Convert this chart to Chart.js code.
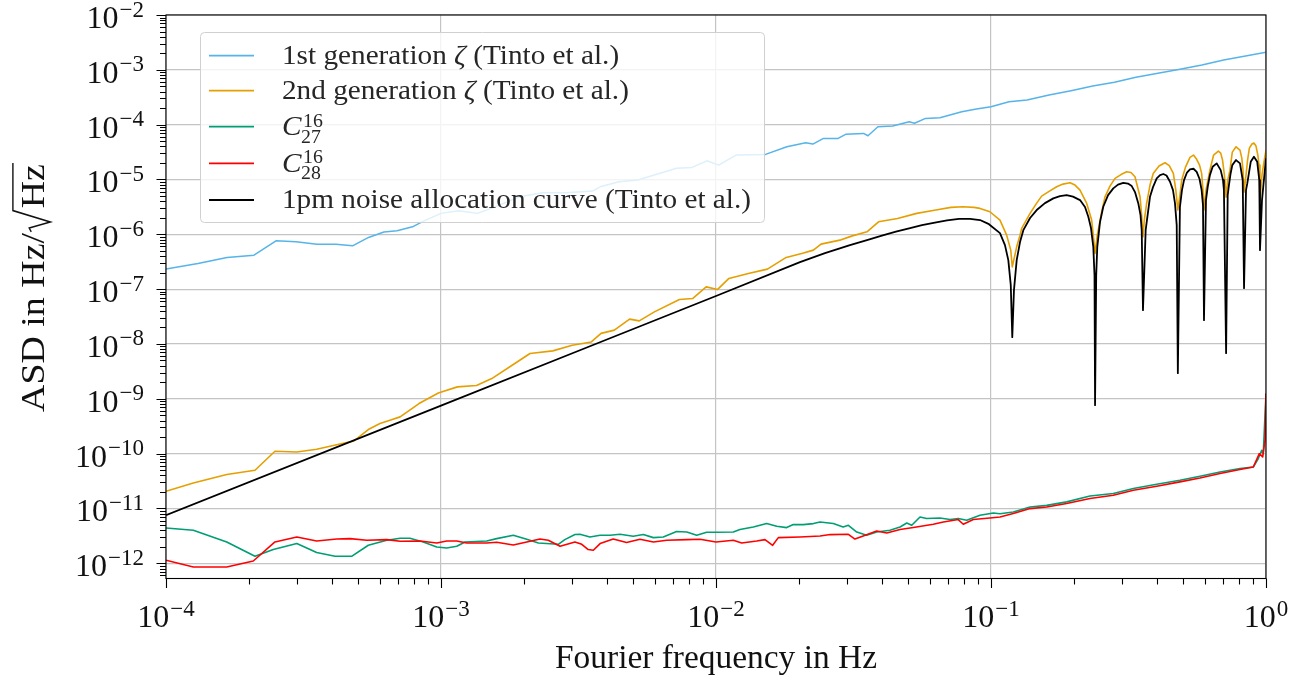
<!DOCTYPE html>
<html>
<head>
<meta charset="utf-8">
<script src="https://cdn.jsdelivr.net/npm/chart.js@4.4.1/dist/chart.umd.min.js"></script>
<style>
html,body{margin:0;padding:0;background:#fff;overflow:hidden;}
canvas{display:block;}
</style>
</head>
<body>
<canvas id="c" width="1304" height="683"></canvas>
<script>
// ---------------- data ----------------
const freqGen1 = [1.0e-4, 1.307e-4, 1.667e-4, 2.089e-4, 2.512e-4, 2.97e-4, 3.54e-4, 4.15e-4, 4.77e-4, 5.45e-4, 6.20e-4, 6.92e-4, 7.88e-4, 8.67e-4, 1.0e-3, 1.158e-3, 1.36e-3, 1.596e-3, 1.93e-3, 2.34e-3, 2.84e-3, 3.56e-3, 3.79e-3, 4.44e-3, 5.20e-3, 6.13e-3, 7.19e-3, 8.18e-3, 9.27e-3, 1.023e-2, 1.182e-2, 1.514e-2, 1.81e-2, 2.12e-2, 2.25e-2, 2.46e-2, 2.78e-2, 2.96e-2, 3.44e-2, 3.57e-2, 3.88e-2, 4.39e-2, 5.04e-2, 5.27e-2, 5.78e-2, 6.52e-2, 7.83e-2, 8.85e-2, 0.1, 0.1163, 0.1352, 0.1626, 0.1954, 0.2344, 0.2812, 0.3365, 0.4046, 0.4864, 0.5848, 0.7015, 0.8424, 1.0];
const asdGen1 = [2.32e-7, 2.94e-7, 3.79e-7, 4.17e-7, 7.60e-7, 7.30e-7, 6.62e-7, 6.62e-7, 6.17e-7, 8.77e-7, 1.10e-6, 1.16e-6, 1.37e-6, 1.76e-6, 2.41e-6, 2.69e-6, 2.41e-6, 3.27e-6, 4.83e-6, 5.71e-6, 5.71e-6, 6.14e-6, 7.36e-6, 9.08e-6, 9.75e-6, 1.26e-5, 1.60e-5, 1.66e-5, 2.19e-5, 1.83e-5, 2.79e-5, 2.87e-5, 3.95e-5, 4.67e-5, 4.43e-5, 5.62e-5, 5.62e-5, 6.65e-5, 6.93e-5, 6.27e-5, 9.16e-5, 9.43e-5, 1.13e-4, 1.06e-4, 1.30e-4, 1.34e-4, 1.72e-4, 1.93e-4, 2.12e-4, 2.62e-4, 2.81e-4, 3.47e-4, 4.16e-4, 5.06e-4, 5.91e-4, 7.30e-4, 8.63e-4, 1.02e-3, 1.22e-3, 1.51e-3, 1.79e-3, 2.09e-3];

const freqGen2 = [1.0e-4, 1.257e-4, 1.663e-4, 2.107e-4, 2.49e-4, 2.99e-4, 3.53e-4, 4.54e-4, 4.80e-4, 5.44e-4, 6.00e-4, 6.52e-4, 7.10e-4, 8.32e-4, 9.78e-4, 1.147e-3, 1.346e-3, 1.53e-3, 1.855e-3, 2.107e-3, 2.55e-3, 3.00e-3, 3.52e-3, 3.82e-3, 4.27e-3, 4.85e-3, 5.26e-3, 5.97e-3, 7.36e-3, 8.24e-3, 9.21e-3, 1.014e-2, 1.114e-2, 1.311e-2, 1.538e-2, 1.80e-2, 2.05e-2, 2.26e-2, 2.41e-2, 2.82e-2, 3.11e-2, 3.54e-2, 3.90e-2, 4.57e-2, 5.37e-2, 6.30e-2, 7.15e-2, 7.89e-2, 8.67e-2, 9.12e-2, 9.91e-2, 0.1078,
  0.114, 0.118, 0.1195, 0.124, 0.1275, 0.1293, 0.1387, 0.1466, 0.1528, 0.1632, 0.1733, 0.1827, 0.1938, 0.2021, 0.2107, 0.2229, 0.2323, 0.2355, 0.239, 0.2435, 0.2525, 0.2597, 0.2708, 0.2825, 0.2970, 0.3115, 0.3228, 0.3339, 0.3483, 0.3530, 0.357, 0.3610, 0.3681, 0.3786, 0.389, 0.4083, 0.4293, 0.4450, 0.4603, 0.4700, 0.478, 0.4864, 0.4938, 0.5096, 0.5291, 0.5450, 0.5597, 0.5733, 0.5834, 0.5900, 0.595, 0.6050, 0.6252, 0.6449, 0.6709, 0.6843, 0.695, 0.7060, 0.716, 0.7256, 0.7396, 0.7541, 0.778, 0.8043, 0.8166, 0.825, 0.832, 0.8459, 0.857, 0.8701, 0.889, 0.9039, 0.9197, 0.9340, 0.9433, 0.951, 0.9671, 0.979, 1.0];
const asdGen2 = [2.06e-11, 2.92e-11, 4.16e-11, 4.98e-11, 1.106e-10, 1.07e-10, 1.20e-10, 1.60e-10, 1.68e-10, 2.75e-10, 3.54e-10, 4.07e-10, 4.68e-10, 8.20e-10, 1.28e-9, 1.65e-9, 1.75e-9, 2.34e-9, 4.41e-9, 6.71e-9, 7.48e-9, 9.51e-9, 1.09e-8, 1.56e-8, 1.79e-8, 2.84e-8, 2.64e-8, 3.85e-8, 6.49e-8, 6.76e-8, 1.10e-7, 9.88e-8, 1.57e-7, 1.93e-7, 2.32e-7, 3.79e-7, 4.48e-7, 5.15e-7, 6.62e-7, 7.83e-7, 9.27e-7, 1.11e-6, 1.69e-6, 1.95e-6, 2.41e-6, 2.77e-6, 3.10e-6, 3.18e-6, 3.10e-6, 2.97e-6, 2.58e-6, 1.82e-6,
  9.66e-7, 5.15e-7, 2.55e-7, 5.92e-7, 9.66e-7, 1.28e-6, 2.41e-6, 3.71e-6, 4.98e-6, 6.14e-6, 7.36e-6, 8.24e-6, 8.71e-6, 7.91e-6, 6.41e-6, 3.66e-6, 1.82e-6, 9.66e-7, 4.48e-7, 9.66e-7, 2.54e-6, 4.83e-6, 7.58e-6, 1.05e-5, 1.23e-5, 1.38e-5, 1.34e-5, 1.12e-5, 4.83e-6, 2.24e-6, 9.0e-7, 1.82e-6, 3.66e-6, 7.91e-6, 1.29e-5, 1.76e-5, 2.02e-5, 1.79e-5, 1.29e-5, 6.41e-6, 2.77e-6, 5.19e-6, 9.75e-6, 1.68e-5, 2.53e-5, 2.79e-5, 2.33e-5, 1.83e-5, 1.29e-5, 6.41e-6, 2.77e-6, 6.41e-6, 1.48e-5, 2.79e-5, 3.30e-5, 3.03e-5, 2.26e-5, 1.20e-5, 4.77e-6, 9.75e-6, 1.48e-5, 3.16e-5, 3.95e-5, 3.44e-5, 2.46e-5, 1.48e-5, 5.89e-6, 1.20e-5, 2.26e-5, 3.74e-5, 4.43e-5, 4.62e-5, 4.07e-5, 2.79e-5, 1.83e-5, 4.21e-6, 1.20e-5, 1.83e-5, 3.44e-5];

const freqC27 = [1.0e-4, 1.257e-4, 1.663e-4, 2.107e-4, 2.455e-4, 2.99e-4, 3.53e-4, 4.12e-4, 4.73e-4, 5.44e-4, 6.35e-4, 7.10e-4, 7.71e-4, 8.62e-4, 9.65e-4, 1.049e-3, 1.141e-3, 1.223e-3, 1.466e-3, 1.594e-3, 1.832e-3, 2.05e-3, 2.26e-3, 2.67e-3, 2.82e-3, 3.07e-3, 3.20e-3, 3.48e-3, 3.79e-3, 4.12e-3, 4.48e-3, 5.00e-3, 5.44e-3, 5.92e-3, 6.43e-3, 7.19e-3, 7.83e-3, 8.51e-3, 9.25e-3, 1.0e-2, 1.156e-2, 1.222e-2, 1.367e-2, 1.528e-2, 1.663e-2, 1.807e-2, 1.91e-2, 2.077e-2, 2.26e-2, 2.39e-2, 2.67e-2, 2.90e-2, 3.03e-2, 3.25e-2, 3.53e-2, 3.84e-2, 4.29e-2, 4.67e-2, 4.94e-2, 5.15e-2, 5.52e-2, 5.83e-2, 6.52e-2, 7.10e-2, 7.60e-2, 8.16e-2, 9.12e-2, 0.102, 0.1078, 0.1205, 0.1387, 0.1594, 0.1884, 0.2291, 0.2784, 0.3293, 0.4005, 0.4864, 0.5754, 0.6804, 0.8043, 0.8991, 0.9377, 0.9647, 0.9773, 1.0];
const asdC27 = [4.41e-12, 4.00e-12, 2.45e-12, 1.34e-12, 1.78e-12, 2.29e-12, 1.57e-12, 1.34e-12, 1.34e-12, 2.13e-12, 2.63e-12, 2.86e-12, 2.86e-12, 2.45e-12, 1.98e-12, 1.90e-12, 2.04e-12, 2.45e-12, 2.55e-12, 2.82e-12, 3.24e-12, 2.74e-12, 2.35e-12, 2.22e-12, 2.70e-12, 3.34e-12, 3.38e-12, 3.02e-12, 3.24e-12, 3.24e-12, 3.38e-12, 3.11e-12, 3.34e-12, 2.94e-12, 3.02e-12, 3.79e-12, 3.72e-12, 3.24e-12, 3.68e-12, 3.68e-12, 3.72e-12, 4.12e-12, 4.59e-12, 5.30e-12, 4.73e-12, 4.48e-12, 5.08e-12, 5.08e-12, 5.30e-12, 5.67e-12, 5.30e-12, 4.59e-12, 4.93e-12, 3.72e-12, 3.24e-12, 3.72e-12, 4.00e-12, 4.59e-12, 5.43e-12, 4.93e-12, 7.00e-12, 6.55e-12, 6.71e-12, 6.27e-12, 6.55e-12, 6.09e-12, 7.51e-12, 8.28e-12, 8.0e-12, 8.63e-12, 1.06e-11, 1.14e-11, 1.32e-11, 1.69e-11, 1.87e-11, 2.31e-11, 2.77e-11, 3.27e-11, 3.87e-11, 4.63e-11, 5.35e-11, 5.71e-11, 8.15e-11, 1.15e-10, 1.00e-10, 1.25e-9];

const freqC28 = [1.0e-4, 1.257e-4, 1.663e-4, 2.077e-4, 2.49e-4, 2.99e-4, 3.53e-4, 4.18e-4, 4.67e-4, 5.37e-4, 6.35e-4, 7.10e-4, 8.39e-4, 9.65e-4, 1.049e-3, 1.141e-3, 1.24e-3, 1.466e-3, 1.594e-3, 1.832e-3, 2.05e-3, 2.29e-3, 2.455e-3, 2.71e-3, 3.07e-3, 3.25e-3, 3.43e-3, 3.58e-3, 3.79e-3, 4.23e-3, 4.73e-3, 5.29e-3, 5.92e-3, 6.62e-3, 7.83e-3, 8.75e-3, 1.0e-2, 1.156e-2, 1.24e-2, 1.406e-2, 1.507e-2, 1.607e-2, 1.685e-2, 2.02e-2, 2.39e-2, 2.60e-2, 3.03e-2, 3.20e-2, 3.43e-2, 3.84e-2, 4.18e-2, 4.67e-2, 5.22e-2, 6.17e-2, 6.71e-2, 7.60e-2, 7.93e-2, 8.62e-2, 9.91e-2, 0.1078, 0.1205, 0.1387, 0.1594, 0.1884, 0.2291, 0.2784, 0.3293, 0.4005, 0.4864, 0.5754, 0.6804, 0.8043, 0.8991, 0.9454, 0.9727, 0.9917, 1.0];
const asdC28 = [1.135e-12, 8.57e-13, 8.57e-13, 1.10e-12, 2.45e-12, 3.02e-12, 2.55e-12, 2.77e-12, 2.82e-12, 2.63e-12, 2.70e-12, 2.52e-12, 2.55e-12, 2.35e-12, 2.55e-12, 2.55e-12, 2.35e-12, 2.35e-12, 2.42e-12, 2.16e-12, 2.45e-12, 2.77e-12, 2.63e-12, 2.04e-12, 2.45e-12, 2.22e-12, 1.78e-12, 1.73e-12, 2.29e-12, 2.77e-12, 2.39e-12, 2.74e-12, 2.45e-12, 2.63e-12, 2.70e-12, 2.74e-12, 2.45e-12, 2.63e-12, 2.35e-12, 2.55e-12, 2.70e-12, 2.13e-12, 2.94e-12, 3.02e-12, 3.15e-12, 3.34e-12, 3.38e-12, 2.77e-12, 3.15e-12, 3.88e-12, 3.57e-12, 4.12e-12, 4.48e-12, 5.15e-12, 5.67e-12, 6.27e-12, 5.15e-12, 6.27e-12, 6.71e-12, 7.0e-12, 8.07e-12, 9.95e-12, 1.06e-11, 1.23e-11, 1.52e-11, 1.74e-11, 2.15e-11, 2.54e-11, 3.05e-11, 3.60e-11, 4.34e-11, 5.13e-11, 5.71e-11, 1.00e-10, 8.71e-11, 1.76e-10, 1.25e-9];

const freqNoise = [1.0e-4, 1.0e-3, 3.20e-3, 1.0e-2, 2.02e-2, 2.49e-2, 3.07e-2, 3.54e-2, 4.01e-2, 4.51e-2, 5.08e-2, 5.61e-2, 6.25e-2, 6.92e-2, 7.65e-2, 8.39e-2, 9.12e-2, 9.83e-2, 0.1078, 0.1124, 0.1156, 0.118, 0.1195, 0.1212, 0.124, 0.1275, 0.1311, 0.1387, 0.1466, 0.1571, 0.1685, 0.1782, 0.1884, 0.1987, 0.2107, 0.2197, 0.2259, 0.2310, 0.2355, 0.2379, 0.239, 0.2413, 0.2435, 0.2491, 0.256, 0.2665, 0.2784, 0.2896, 0.3027, 0.3148, 0.3249, 0.3339, 0.3433, 0.3497, 0.3532, 0.357, 0.3651, 0.3786, 0.3882, 0.4005, 0.4118, 0.4233, 0.4347, 0.4477, 0.4590, 0.4667, 0.4735, 0.478, 0.4864, 0.4948, 0.5034, 0.5160, 0.5291, 0.5450, 0.5597, 0.5733, 0.5834, 0.5900, 0.595, 0.6050, 0.6138, 0.6252, 0.6397, 0.6618, 0.6843, 0.6977, 0.7031, 0.716, 0.7256, 0.7318, 0.743, 0.7541, 0.778, 0.8043, 0.8228, 0.832, 0.8459, 0.855, 0.88, 0.9039, 0.9291, 0.9454, 0.951, 0.9671, 0.9773, 1.0];
const asdNoise = [7.51e-12, 7.51e-10, 7.69e-9, 7.51e-8, 3.11e-7, 4.54e-7, 6.35e-7, 7.83e-7, 9.46e-7, 1.12e-6, 1.30e-6, 1.47e-6, 1.64e-6, 1.79e-6, 1.91e-6, 1.92e-6, 1.82e-6, 1.53e-6, 1.05e-6, 6.35e-7, 3.38e-7, 1.18e-7, 1.33e-8, 9.6e-8, 3.38e-7, 7.21e-7, 1.19e-6, 1.98e-6, 2.77e-6, 3.71e-6, 4.52e-6, 4.98e-6, 5.19e-6, 4.88e-6, 4.21e-6, 3.14e-6, 2.09e-6, 1.30e-6, 5.92e-7, 1.80e-7, 7.64e-10, 1.80e-7, 5.92e-7, 1.67e-6, 3.18e-6, 5.19e-6, 6.89e-6, 8.07e-6, 8.71e-6, 8.41e-6, 7.58e-6, 5.89e-6, 3.66e-6, 2.24e-6, 1.19e-6, 4.14e-8, 1.19e-6, 4.83e-6, 7.26e-6, 1.05e-5, 1.20e-5, 1.26e-5, 1.18e-5, 9.08e-6, 6.41e-6, 3.66e-6, 1.47e-6, 2.93e-9, 3.18e-6, 6.41e-6, 9.75e-6, 1.34e-5, 1.53e-5, 1.57e-5, 1.38e-5, 1.02e-5, 6.41e-6, 3.41e-6, 2.72e-8, 4.21e-6, 7.36e-6, 1.20e-5, 1.71e-5, 1.97e-5, 1.48e-5, 9.75e-6, 6.41e-6, 6.79e-9, 5.19e-6, 7.36e-6, 1.26e-5, 1.83e-5, 2.26e-5, 1.97e-5, 9.75e-6, 1.04e-7, 6.41e-6, 8.49e-6, 2.10e-5, 2.60e-5, 2.10e-5, 9.75e-6, 5.15e-7, 4.21e-6, 7.36e-6, 2.43e-5];

const seriesLabels = ['1st generation ζ (Tinto et al.)', '2nd generation ζ (Tinto et al.)', 'C_27^16', 'C_28^16', '1pm noise allocation curve (Tinto et al.)'];
const seriesColors = ['#56B4E9', '#E69F00', '#009E73', '#FF0000', '#000000'];

const xTickValues = [1e-4, 1e-3, 1e-2, 1e-1, 1];
const xTickExponents = ['\u22124', '\u22123', '\u22122', '\u22121', '0'];
const yTickValues = [1e-12, 1e-11, 1e-10, 1e-9, 1e-8, 1e-7, 1e-6, 1e-5, 1e-4, 1e-3, 1e-2];
const yTickExponents = ['\u221212', '\u221211', '\u221210', '\u22129', '\u22128', '\u22127', '\u22126', '\u22125', '\u22124', '\u22123', '\u22122'];

const xTitle = 'Fourier frequency in Hz';
const yTitleParts = ['ASD in Hz/', 'Hz'];   // second part sits under a square root

// ---------------- helpers ----------------
const SERIF = '"Liberation Serif","DejaVu Serif",serif';
function pairs(fs, vs) {
  const n = Math.min(fs.length, vs.length);
  const out = [];
  for (let i = 0; i < n; i++) out.push({x: fs[i], y: vs[i]});
  return out;
}

function drawPow(ctx, exp, x, baseY, align) {
  ctx.font = '32px ' + SERIF;
  const wb = ctx.measureText('10').width;
  ctx.font = '23px ' + SERIF;
  const we = ctx.measureText(exp).width;
  const w = wb + 1 + we;
  const x0 = align === 'right' ? x - w : x - w / 2;
  ctx.textAlign = 'left';
  ctx.textBaseline = 'alphabetic';
  ctx.font = '32px ' + SERIF;
  ctx.fillText('10', x0, baseY);
  ctx.font = '23px ' + SERIF;
  ctx.fillText(exp, x0 + wb + 1, baseY - 11.5);
}

function drawLegend(chart) {
  const ctx = chart.ctx;
  ctx.save();
  const bx = 200.5, by = 32.5, bw = 564, bh = 190, r = 4;
  ctx.beginPath();
  ctx.moveTo(bx + r, by);
  ctx.lineTo(bx + bw - r, by); ctx.quadraticCurveTo(bx + bw, by, bx + bw, by + r);
  ctx.lineTo(bx + bw, by + bh - r); ctx.quadraticCurveTo(bx + bw, by + bh, bx + bw - r, by + bh);
  ctx.lineTo(bx + r, by + bh); ctx.quadraticCurveTo(bx, by + bh, bx, by + bh - r);
  ctx.lineTo(bx, by + r); ctx.quadraticCurveTo(bx, by, bx + r, by);
  ctx.closePath();
  ctx.fillStyle = 'rgba(255,255,255,0.8)';
  ctx.fill();
  ctx.strokeStyle = '#d0d0d0';
  ctx.lineWidth = 1;
  ctx.stroke();

  const rows = [55.7, 90.7, 126.7, 163.3, 200];
  ctx.font = '28px ' + SERIF;
  const sx = 469 / ctx.measureText(seriesLabels[4]).width;
  seriesLabels.forEach((lab, i) => {
    const yy = rows[i];
    ctx.strokeStyle = seriesColors[i];
    ctx.lineWidth = 1.8;
    ctx.beginPath(); ctx.moveTo(209, yy); ctx.lineTo(254, yy); ctx.stroke();
    ctx.fillStyle = '#262626';
    ctx.textBaseline = 'alphabetic';
    ctx.textAlign = 'left';
    const base = yy + 8.3;
    const m = lab.match(/^([A-Z])_(\d+)\^(\d+)$/);
    ctx.save();
    ctx.translate(282, 0);
    ctx.scale(sx, 1);
    if (m) {
      ctx.font = 'italic 28px ' + SERIF;
      ctx.fillText(m[1], 0, base);
      const wc = ctx.measureText(m[1]).width;
      ctx.font = '19px ' + SERIF;
      ctx.fillText(m[3], wc + 1.5, base - 8.3);
      ctx.fillText(m[2], wc - 0.5, base + 7.7);
    } else {
      const parts = lab.split('ζ');
      let cx = 0;
      parts.forEach((p, k) => {
        ctx.font = '28px ' + SERIF;
        ctx.fillText(p, cx, base);
        cx += ctx.measureText(p).width;
        if (k < parts.length - 1) {
          ctx.font = 'italic 28px ' + SERIF;
          ctx.fillText('ζ', cx, base);
          cx += ctx.measureText('ζ').width;
        }
      });
    }
    ctx.restore();
  });
  ctx.restore();
}

const decoPlugin = {
  id: 'deco',
  afterDatasetsDraw(chart) { drawLegend(chart); },
  afterDraw(chart) {
    const {ctx, chartArea: a, scales} = chart;
    const xs = scales.x, ys = scales.y;
    ctx.save();
    ctx.strokeStyle = '#000';
    ctx.lineWidth = 1.1;
    ctx.strokeRect(a.left, a.top, a.right - a.left, a.bottom - a.top);
    ctx.beginPath();
    for (let d = -4; d <= 0; d++) {
      for (let k = 1; k <= 9; k++) {
        const v = k * Math.pow(10, d);
        if (v < xs.min * 0.999 || v > xs.max * 1.001) continue;
        const px = Math.round(xs.getPixelForValue(v)) + 0.5;
        const len = k === 1 ? 9.5 : 6;
        ctx.moveTo(px, a.bottom); ctx.lineTo(px, a.bottom + len);
      }
    }
    for (let d = -13; d <= -2; d++) {
      for (let k = 1; k <= 9; k++) {
        const v = k * Math.pow(10, d);
        if (v < ys.min * 0.999 || v > ys.max * 1.001) continue;
        const py = Math.round(ys.getPixelForValue(v)) + 0.5;
        const len = k === 1 ? 9.5 : 6;
        ctx.moveTo(a.left, py); ctx.lineTo(a.left - len, py);
      }
    }
    ctx.stroke();
    ctx.fillStyle = '#111';
    xTickValues.forEach((v, i) => {
      drawPow(ctx, xTickExponents[i], xs.getPixelForValue(v), 627, 'center');
    });
    yTickValues.forEach((v, i) => {
      drawPow(ctx, yTickExponents[i], 144, ys.getPixelForValue(v) + 13, 'right');
    });
    ctx.font = '34px ' + SERIF;
    const wx = ctx.measureText(xTitle).width;
    ctx.save();
    ctx.translate((a.left + a.right) / 2, 668);
    ctx.scale(322 / wx, 1);
    ctx.textAlign = 'center';
    ctx.textBaseline = 'alphabetic';
    ctx.fillText(xTitle, 0, 0);
    ctx.restore();
    ctx.save();
    ctx.translate(43.5, 412);
    ctx.rotate(-Math.PI / 2);
    ctx.font = '34px ' + SERIF;
    const w1 = ctx.measureText(yTitleParts[0]).width;
    const w2 = ctx.measureText(yTitleParts[1]).width;
    const em = 34;
    const rad = 0.62 * em;
    const total = w1 + rad + w2 + 2;
    ctx.scale(249 / total, 1);
    ctx.textAlign = 'left';
    ctx.textBaseline = 'alphabetic';
    ctx.fillText(yTitleParts[0], 0, 0);
    const xr = w1 + 1;
    ctx.fillText(yTitleParts[1], xr + rad, 0);
    ctx.strokeStyle = '#111';
    ctx.lineWidth = 1.4;
    ctx.lineJoin = 'miter';
    ctx.beginPath();
    ctx.moveTo(xr, -0.36 * em);
    ctx.lineTo(xr + 0.1 * em, -0.42 * em);
    ctx.lineTo(xr + 0.26 * em, 0.2 * em);
    ctx.lineTo(xr + 0.56 * em, -0.9 * em);
    ctx.lineTo(xr + rad + w2 + 1, -0.9 * em);
    ctx.stroke();
    ctx.restore();
    ctx.restore();
  }
};

const widths = [1.5, 1.6, 1.6, 1.6, 1.8];
const datasets = [
  {data: pairs(freqGen1, asdGen1), borderColor: seriesColors[0], order: 4},
  {data: pairs(freqGen2, asdGen2), borderColor: seriesColors[1], order: 3},
  {data: pairs(freqC27, asdC27), borderColor: seriesColors[2], order: 2},
  {data: pairs(freqC28, asdC28), borderColor: seriesColors[3], order: 1},
  {data: pairs(freqNoise, asdNoise), borderColor: seriesColors[4], order: 0}
].map((d, i) => Object.assign({label: seriesLabels[i], borderWidth: widths[i], pointRadius: 0, fill: false, tension: 0,
  borderJoinStyle: 'round', borderCapStyle: 'butt'}, d));

new Chart(document.getElementById('c').getContext('2d'), {
  type: 'line',
  data: {datasets},
  options: {
    responsive: false,
    animation: false,
    devicePixelRatio: 1,
    layout: {padding: {left: 166, right: 38, top: 15, bottom: 104.5}},
    plugins: {legend: {display: false}, tooltip: {enabled: false}},
    scales: {
      x: {
        type: 'logarithmic', min: 1e-4, max: 1,
        afterBuildTicks: s => { s.ticks = xTickValues.map(v => ({value: v})); },
        ticks: {display: false},
        grid: {color: '#c4c4c4', lineWidth: 1.2, drawTicks: false},
        border: {display: false}
      },
      y: {
        type: 'logarithmic', min: 5.28e-13, max: 1e-2,
        afterBuildTicks: s => { s.ticks = yTickValues.map(v => ({value: v})); },
        ticks: {display: false},
        grid: {color: '#c4c4c4', lineWidth: 1.2, drawTicks: false},
        border: {display: false}
      }
    }
  },
  plugins: [decoPlugin]
});
</script>
</body>
</html>
